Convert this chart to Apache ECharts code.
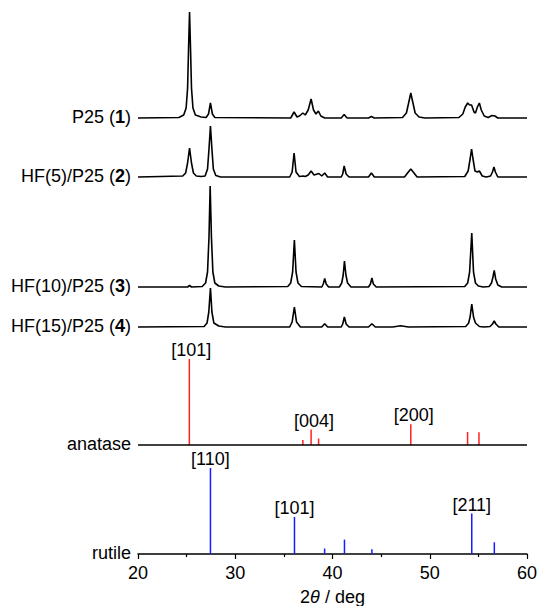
<!DOCTYPE html>
<html>
<head>
<meta charset="utf-8">
<script src="https://cdn.jsdelivr.net/npm/echarts@6/dist/echarts.min.js"></script>
<style>
html,body{margin:0;padding:0;background:#fff;}
#chart{width:539px;height:606px;}
</style>
</head>
<body>
<div id="chart"></div>
<script>
// ---------- data (intensities in arbitrary units) ----------
const xTicks = [20, 30, 40, 50, 60];

const patternNames = ['P25 ({b|1})', 'HF(5)/P25 ({b|2})', 'HF(10)/P25 ({b|3})', 'HF(15)/P25 ({b|4})'];

const p25 = [
  [20,0],
  [24.2,0.5],[24.7,3],[24.95,10],[25.1,30],[25.2,70],[25.3,106],[25.4,70],[25.5,30],[25.65,10],[25.9,3],[26.5,1],
  [27.0,0.5],[27.25,4],[27.45,15],[27.65,4],[27.9,0.5],
  [35.7,0],[36.05,6],[36.35,1],[36.6,2],[36.95,5],[37.2,3],[37.5,8],[37.8,19],[38.05,8],[38.3,4],[38.55,7],[38.8,2],[39.2,0],
  [40.9,0],[41.2,3.5],[41.5,0],
  [43.7,0],[44.0,1.5],[44.3,0],
  [47.2,0.5],[47.6,5],[47.85,16],[48.05,25],[48.25,16],[48.5,5],[48.9,1],[49.5,0],
  [53.0,0.5],[53.4,4],[53.65,11],[53.9,15],[54.1,13],[54.3,13],[54.55,6],[54.7,5],[54.9,11],[55.1,15],[55.3,8],[55.6,2],[56.0,0.5],
  [56.4,2.5],[56.7,2],[57.0,0],
  [60,0]
];

const hf5 = [
  [20,0],
  [24.6,1],[24.9,4],[25.1,14],[25.3,29],[25.5,14],[25.7,4],[26.0,1],[26.5,0.5],
  [26.9,1],[27.15,8],[27.3,28],[27.45,51],[27.6,28],[27.75,8],[28.0,1.5],[28.5,0],
  [35.6,0],[35.85,5],[36.05,24],[36.25,5],[36.6,0.5],
  [37.0,1],[37.2,0.5],[37.5,2],[37.8,6],[38.1,2],[38.6,3.5],[38.9,1],[39.2,4],[39.5,0],
  [40.9,0],[41.05,3],[41.2,11],[41.4,3],[41.7,0],
  [43.7,0],[44.0,4],[44.3,0],
  [47.4,0],[47.8,5],[48.05,8],[48.3,5],[48.7,0],
  [53.6,0.5],[53.95,6],[54.15,18],[54.3,28],[54.45,18],[54.65,6],[54.9,5],[55.1,6],[55.4,1],[55.8,0],
  [56.25,1],[56.45,5],[56.6,10],[56.75,5],[57.0,0],
  [60,0]
];

const hf10 = [
  [20,0],
  [25.1,0],[25.3,1.5],[25.5,0],
  [26.6,0.5],[26.95,4],[27.15,15],[27.3,50],[27.42,101],[27.55,50],[27.7,15],[27.9,4],[28.3,1],[29,0],
  [35.4,0.5],[35.7,4],[35.9,15],[36.08,47],[36.25,15],[36.45,4],[36.8,0.5],
  [38.9,0],[39.05,3],[39.2,8.5],[39.35,3],[39.6,0],
  [40.7,0],[40.95,4],[41.1,12],[41.23,26],[41.38,12],[41.55,4],[41.9,0],
  [43.7,0],[43.9,3],[44.05,9],[44.2,3],[44.5,0],
  [53.6,0.5],[53.9,4],[54.1,15],[54.32,54],[54.5,15],[54.7,4],[55.0,1],[55.5,0],
  [56.1,0.5],[56.35,4],[56.5,10],[56.63,16.7],[56.78,8],[57.0,2],[57.4,0],
  [60,0]
];

const hf15 = [
  [20,0],
  [26.8,0.5],[27.1,4],[27.28,15],[27.45,39],[27.6,15],[27.8,4],[28.3,1],[29,0],
  [35.6,0],[35.85,5],[36.08,20],[36.3,5],[36.7,0],
  [38.9,0],[39.2,3.3],[39.5,0],
  [40.9,0],[41.05,3],[41.22,10],[41.4,3],[41.7,0],
  [43.7,0],[44.05,3.3],[44.4,0],
  [46.2,0],[47.0,1.2],[47.8,0],
  [53.7,0.5],[54.0,4],[54.15,10],[54.32,23],[54.5,10],[54.7,4],[55.1,0.5],[55.6,0],
  [56.2,0.5],[56.45,3],[56.63,6],[56.8,3],[57.1,0],
  [60,0]
];

// reference sticks
const anataseX = [25.28, 36.95, 37.80, 38.57, 48.05, 53.89, 55.06];
const anataseI = [86, 5, 15.5, 6.5, 20.7, 13, 12.7];
const anataseHkl = ['[101]', '', '[004]', '', '[200]', '', ''];

const rutileX = [27.45, 36.09, 39.19, 41.23, 44.05, 54.32, 56.64];
const rutileI = [86, 37, 5.5, 14.4, 4.8, 40.5, 11.7];
const rutileHkl = ['[110]', '[101]', '', '', '', '[211]', ''];

// ---------- layout / style ----------
const FONT = '"Liberation Sans", Arial, Helvetica, sans-serif';
const offsets = [436, 377, 267, 227];   // vertical stacking offsets of the patterns
const anataseBase = 109;
const rutileBase = 0;
const hklShiftPx = { anatase: [2, 0, 3, 0, 3, 0, 0], rutile: [0, 0, 0, 0, 0, 0, 0] };

const patterns = [p25, hf5, hf10, hf15];

const chart = echarts.init(document.getElementById('chart'), null, { renderer: 'svg' });

const series = [];
patterns.forEach((pts, i) => {
  series.push({
    type: 'line',
    data: pts.map(p => [p[0], p[1] + offsets[i]]),
    showSymbol: false,
    smooth: false,
    lineStyle: { color: '#000', width: 1.6 },
    silent: true,
    animation: false
  });
});

// anatase baseline
series.push({
  type: 'line',
  data: [[20, anataseBase], [60, anataseBase]],
  showSymbol: false,
  lineStyle: { color: '#000', width: 1.5 },
  animation: false,
  silent: true
});

function stickSeries(xs, is, base, color) {
  return {
    type: 'custom',
    data: xs.map((x, k) => [x, is[k]]),
    renderItem: function (params, api) {
      const x = api.value(0), h = api.value(1);
      const p0 = api.coord([x, base]);
      const p1 = api.coord([x, base + h]);
      return {
        type: 'line',
        shape: { x1: p0[0], y1: p0[1], x2: p1[0], y2: p1[1] },
        style: { stroke: color, lineWidth: 1.5 }
      };
    },
    animation: false,
    silent: true
  };
}
series.push(stickSeries(anataseX, anataseI, anataseBase, '#ff2020'));
series.push(stickSeries(rutileX, rutileI, rutileBase, '#1a1aff'));

function hklSeries(xs, is, labels, base, shifts) {
  const data = [];
  xs.forEach((x, k) => { if (labels[k]) data.push([x, is[k], labels[k], shifts[k]]); });
  return {
    type: 'custom',
    data: data,
    renderItem: function (params, api) {
      const x = api.value(0), h = api.value(1);
      const p = api.coord([x, base + h]);
      const d = data[params.dataIndex];
      return {
        type: 'text',
        x: p[0] + d[3],
        y: p[1],
        style: {
          text: d[2], fill: '#000', font: '18px ' + FONT,
          align: 'center', verticalAlign: 'bottom',
          textAlign: 'center', textVerticalAlign: 'bottom'
        }
      };
    },
    animation: false,
    silent: true
  };
}
series.push(hklSeries(anataseX, anataseI, anataseHkl, anataseBase, hklShiftPx.anatase));
series.push(hklSeries(rutileX, rutileI, rutileHkl, rutileBase, hklShiftPx.rutile));

// left-hand labels
const sideLabels = patternNames.map((n, i) => [20, offsets[i], n])
  .concat([[20, anataseBase, 'anatase'], [20, rutileBase, 'rutile']]);
series.push({
  type: 'custom',
  data: sideLabels,
  renderItem: function (params, api) {
    const d = sideLabels[params.dataIndex];
    const p = api.coord([d[0], d[1]]);
    return {
      type: 'text',
      x: p[0] - 7,
      y: p[1] - 1,
      style: {
        text: d[2], fill: '#000', font: '18px ' + FONT,
        align: 'right', verticalAlign: 'middle',
        textAlign: 'right', textVerticalAlign: 'middle',
        rich: { b: { fontWeight: 'bold', fontSize: 18, fontFamily: FONT, fill: '#000' } }
      }
    };
  },
  animation: false,
  silent: true
});

chart.setOption({
  animation: false,
  backgroundColor: '#fff',
  grid: { left: 138, right: 12, top: 0, bottom: 52, containLabel: false, outerBoundsMode: 'none' },
  xAxis: {
    type: 'value',
    min: xTicks[0],
    max: xTicks[xTicks.length - 1],
    interval: 10,
    name: '2{i|θ} / deg',
    nameLocation: 'middle',
    nameGap: 34,
    nameTextStyle: {
      color: '#000', fontSize: 18, fontFamily: FONT,
      rich: { i: { fontStyle: 'italic', fontSize: 18, fontFamily: FONT, color: '#000' } }
    },
    axisLine: { show: true, onZero: false, lineStyle: { color: '#000', width: 1.5 } },
    axisTick: { show: true, inside: false, length: 5, lineStyle: { color: '#000', width: 1.2 } },
    minorTick: { show: true, splitNumber: 2, length: 3, lineStyle: { color: '#000', width: 1.2 } },
    axisLabel: { color: '#000', fontSize: 18, fontFamily: FONT, margin: 10 },
    splitLine: { show: false }
  },
  yAxis: {
    type: 'value', min: 0, max: 554, show: false,
    splitLine: { show: false }
  },
  series: series
});
</script>
</body>
</html>
